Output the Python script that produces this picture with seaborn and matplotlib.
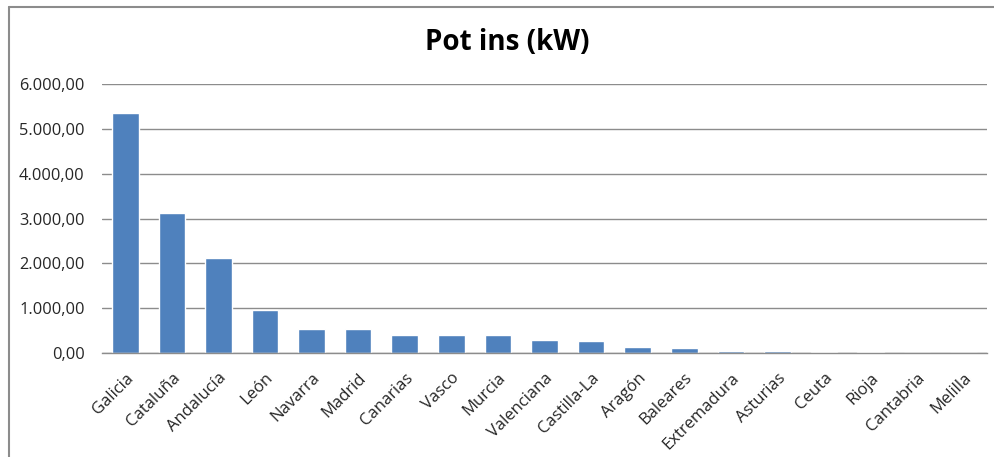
import matplotlib
matplotlib.use("Agg")
import matplotlib.pyplot as plt
import seaborn as sns
import pandas as pd
from matplotlib.ticker import FuncFormatter, MultipleLocator
from matplotlib.lines import Line2D

regions = ["Galicia", "Cataluña", "Andalucía", "León", "Navarra", "Madrid",
           "Canarias", "Vasco", "Murcia", "Valenciana", "Castilla-La", "Aragón",
           "Baleares", "Extremadura", "Asturias", "Ceuta", "Rioja", "Cantabria",
           "Melilla"]
power_kw = [5340, 3130, 2115, 965, 535, 532, 415, 413, 398, 290, 267, 148,
            111, 55, 52, 30, 29, 3, 0]
title = "Pot ins (kW)"

df = pd.DataFrame({"region": regions, "kw": power_kw})

sns.set_theme(style="white")
plt.rcParams["font.family"] = ["Open Sans", "DejaVu Sans"]

W, H = 994, 457
fig = plt.figure(figsize=(W / 100, H / 100), dpi=100)
fig.patch.set_facecolor("white")
ax = fig.add_axes([102 / W, 1 - 353.3 / H, (987 - 102) / W, (353.3 - 83.7) / H])

sns.barplot(data=df, x="region", y="kw", color="#4F81BD", saturation=1,
            width=0.57, ax=ax, order=regions)

ax.set_xlim(-0.5, len(regions) - 0.5)
ax.set_ylim(0, 6000)
ax.yaxis.set_major_locator(MultipleLocator(1000))

def es_fmt(v, pos):
    s = f"{v:,.2f}"
    return s.replace(",", "X").replace(".", ",").replace("X", ".")

ax.yaxis.set_major_formatter(FuncFormatter(es_fmt))
ax.grid(axis="y", color="#8c8c8c", linewidth=1)
ax.set_axisbelow(True)
for s in ["top", "right", "left"]:
    ax.spines[s].set_visible(False)
ax.spines["bottom"].set_color("#8c8c8c")
ax.spines["bottom"].set_linewidth(1)
ax.set_xlabel("")
ax.set_ylabel("")
ax.tick_params(axis="y", length=0, pad=12.5, labelsize=11.8, labelcolor="#262626")
ax.tick_params(axis="x", length=0, pad=12, labelsize=12, labelcolor="#262626")
for lab in ax.get_xticklabels():
    lab.set_rotation(45)
    lab.set_ha("right")
    lab.set_rotation_mode("anchor")

fig.text(507 / W, 1 - 42 / H, title, ha="center", va="center",
         fontsize=20, fontweight="bold", color="black")

# outer chart border (left and top visible)
fig.add_artist(Line2D([8.5 / W, 8.5 / W], [0, 1 - 6.5 / H], transform=fig.transFigure,
                      color="#8c8c8c", linewidth=1.5))
fig.add_artist(Line2D([8.5 / W, 1], [1 - 6.5 / H, 1 - 6.5 / H], transform=fig.transFigure,
                      color="#8c8c8c", linewidth=1.5))

fig.savefig("out.png", dpi=100)
